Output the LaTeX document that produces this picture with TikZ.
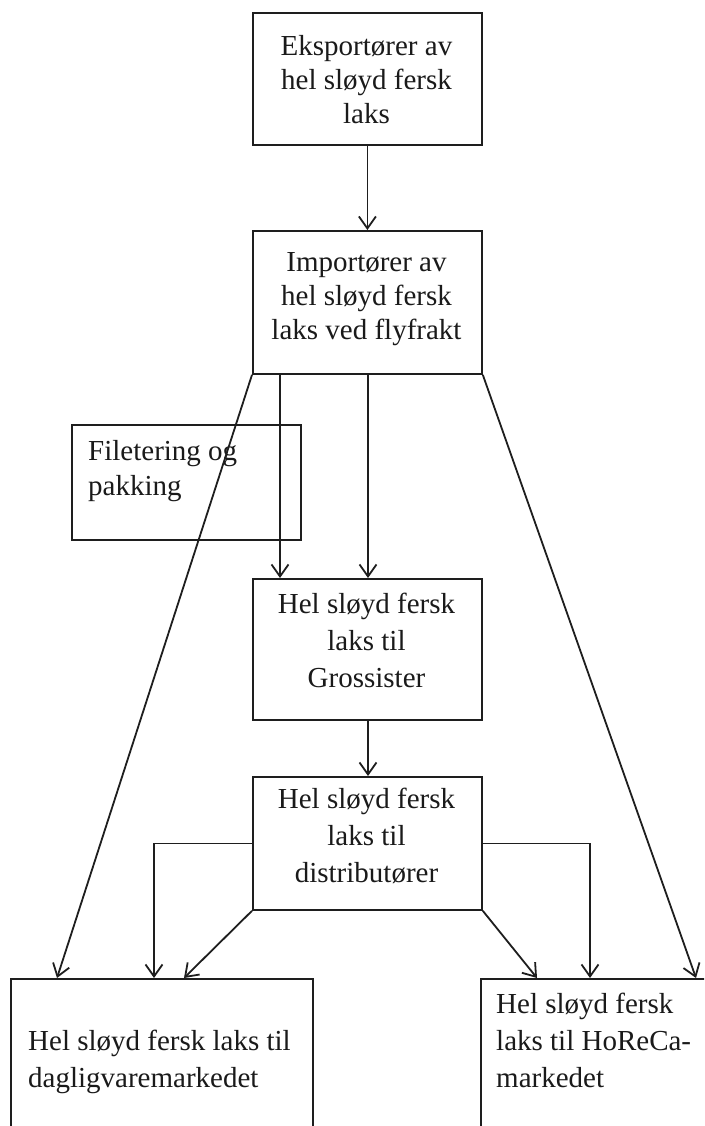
\documentclass[tikz,border=0pt]{standalone}
\usepackage{fontspec}
\setmainfont{Liberation Serif}
\usetikzlibrary{arrows.meta}
\definecolor{linec}{HTML}{1E1E1E}
\definecolor{textc}{HTML}{1A1A1A}
\begin{document}
\begin{tikzpicture}[x=1pt,y=-1pt,
  box/.style={draw=linec, line width=1.8pt, rectangle, inner sep=0pt, anchor=north west},
  txt/.style={text=textc, inner sep=0pt},
  arr/.style={draw=linec, line width=1.8pt, -{Straight Barb[length=12pt,width=17pt,line width=1.8pt]}}]
\useasboundingbox (0,0) rectangle (704,1126);
\fill[white] (0,0) rectangle (704,1126);
\clip (0,0) rectangle (704,1126);

% boxes
\node[box, minimum width=229pt, minimum height=132pt] (exp) at (252,12) {};
\node[box, minimum width=229pt, minimum height=143pt] (imp) at (252,230) {};
\node[box, minimum width=229pt, minimum height=115pt] (fil) at (71,424) {};
\node[box, minimum width=229pt, minimum height=141pt] (gro) at (252,578) {};
\node[box, minimum width=229pt, minimum height=133pt] (dis) at (252,776) {};
\node[box, minimum width=302pt, minimum height=200pt] (dag) at (10,978) {};
\node[box, minimum width=260pt, minimum height=200pt] (hor) at (480,978) {};

% texts
\node[txt, anchor=north, align=center, font=\fontsize{29}{34}\selectfont] (exp-t) at (366.5,35)
  {Eksportører av\\hel sløyd fersk\\laks};
\node[txt, anchor=north, align=center, font=\fontsize{29}{34}\selectfont] (imp-t) at (366.5,252)
  {Importører av\\hel sløyd fersk\\laks ved flyfrakt};
\node[txt, anchor=north west, align=left, font=\fontsize{29}{35}\selectfont] (fil-t) at (88,440)
  {Filetering og\\pakking};
\node[txt, anchor=north, align=center, font=\fontsize{29}{37}\selectfont] (gro-t) at (366.5,593)
  {Hel sløyd fersk\\laks til\\Grossister};
\node[txt, anchor=north, align=center, font=\fontsize{29}{37}\selectfont] (dis-t) at (366.5,788)
  {Hel sløyd fersk\\laks til\\distributører};
\node[txt, anchor=north west, align=left, font=\fontsize{29}{37}\selectfont] (dag-t) at (28,1030)
  {Hel sløyd fersk laks til\\dagligvaremarkedet};
\node[txt, anchor=north west, align=left, font=\fontsize{29}{37}\selectfont] (hor-t) at (496,993)
  {Hel sløyd fersk\\laks til HoReCa-\\markedet};

% connectors
\draw[arr] (exp.south) -- (imp.north);
\draw[arr] (imp.south west) -- ([xshift=47pt]dag.north west);
\draw[arr] ([xshift=28pt]imp.south west) -- ([xshift=28pt]gro.north west);
\draw[arr] ([xshift=116pt]imp.south west) -- ([xshift=116pt]gro.north west);
\draw[arr] (imp.south east) -- ([xshift=216pt]hor.north west);
\draw[arr] ([xshift=116pt]gro.south west) -- ([xshift=116pt]dis.north west);
\draw[arr] (dis.west) -| ([xshift=144pt]dag.north west);
\draw[arr] (dis.south west) -- ([xshift=174pt]dag.north west);
\draw[arr] (dis.south east) -- ([xshift=57pt]hor.north west);
\draw[arr] (dis.east) -| ([xshift=110pt]hor.north west);
\end{tikzpicture}
\end{document}
